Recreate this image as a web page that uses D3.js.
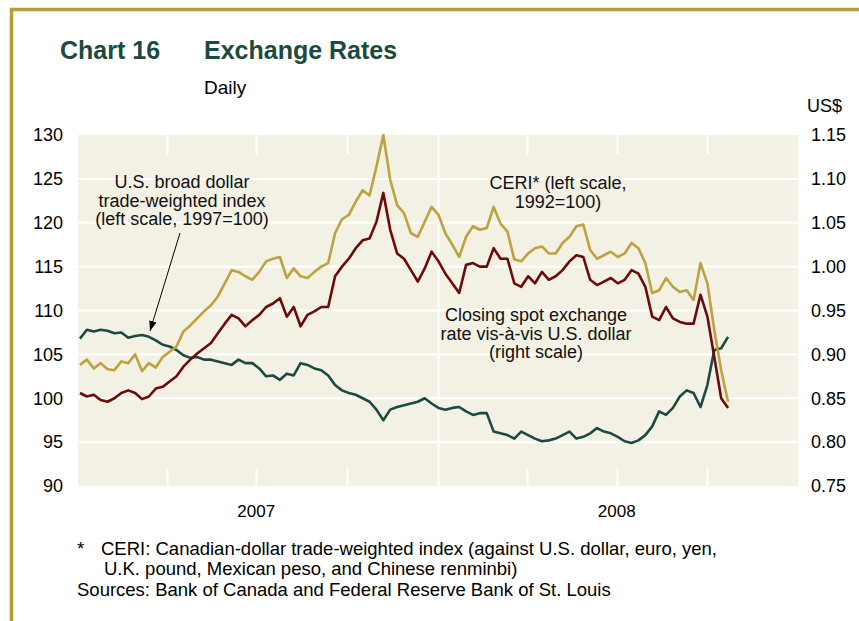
<!DOCTYPE html>
<html>
<head>
<meta charset="utf-8">
<script src="https://cdnjs.cloudflare.com/ajax/libs/d3/7.8.5/d3.min.js"></script>
<style>
body { margin: 0; background: #fff; }
text { font-family: "Liberation Sans", Arial, sans-serif; }
</style>
</head>
<body>
<div id="chart"></div>
<script>
// weekly readings, first week = 3 Jan 2007
var ceri = [
  103.8, 104.4, 103.4, 104.0, 103.3, 103.2, 104.2, 104.0, 105.0, 103.1,
  104.0, 103.5, 104.7, 105.3, 105.9, 107.6, 108.3, 109.1, 109.9, 110.6,
  111.6, 113.1, 114.6, 114.4, 113.9, 113.5, 114.4, 115.6, 115.9, 116.1,
  113.7, 114.8, 113.9, 113.7, 114.4, 115.0, 115.4, 118.8, 120.4, 120.9,
  122.4, 123.7, 123.1, 126.4, 130.0, 124.9, 122.0, 121.1, 118.8, 118.4,
  120.1, 121.8, 120.9, 118.8, 117.5, 116.1, 118.4, 119.6, 119.2, 119.4,
  121.8, 119.9, 119.0, 115.8, 115.6, 116.5, 117.1, 117.3, 116.5, 116.5,
  117.7, 118.4, 119.6, 119.8, 116.9, 115.9, 116.3, 116.7, 116.1, 116.5,
  117.7, 117.1, 115.4, 112.0, 112.3, 113.7, 112.7, 112.1, 112.3, 111.2,
  115.4, 113.1, 107.8, 103.2, 99.6
];
// US$ per C$ (right scale)
var spotRate = [
  0.856, 0.852, 0.854, 0.848, 0.846, 0.850, 0.856, 0.859, 0.856, 0.849,
  0.852, 0.861, 0.863, 0.869, 0.875, 0.886, 0.894, 0.901, 0.907, 0.913,
  0.924, 0.935, 0.945, 0.941, 0.932, 0.939, 0.945, 0.954, 0.958, 0.964,
  0.943, 0.954, 0.932, 0.945, 0.949, 0.954, 0.954, 0.989, 1.000, 1.009,
  1.021, 1.030, 1.032, 1.051, 1.084, 1.042, 1.015, 1.009, 0.996, 0.983,
  0.998, 1.017, 1.006, 0.992, 0.981, 0.970, 1.002, 1.004, 1.000, 1.000,
  1.021, 1.009, 1.009, 0.981, 0.977, 0.989, 0.981, 0.994, 0.985, 0.989,
  0.996, 1.006, 1.013, 1.011, 0.985, 0.979, 0.983, 0.987, 0.981, 0.985,
  0.996, 0.992, 0.977, 0.943, 0.939, 0.954, 0.941, 0.937, 0.935, 0.935,
  0.968, 0.943, 0.897, 0.850, 0.839
];
var usDollar = [
  106.8, 107.8, 107.6, 107.8, 107.7, 107.4, 107.5, 106.9, 107.1, 107.2,
  107.0, 106.6, 106.1, 105.9, 105.5, 104.9, 104.6, 104.7, 104.4, 104.4,
  104.2, 104.0, 103.8, 104.4, 104.0, 104.0, 103.4, 102.5, 102.6, 102.1,
  102.8, 102.6, 104.0, 103.8, 103.4, 103.2, 102.6, 101.5, 100.9, 100.6,
  100.4, 100.0, 99.6, 98.7, 97.5, 98.7, 99.0, 99.2, 99.4, 99.6,
  100.0, 99.4, 98.9, 98.7, 98.9, 99.0, 98.5, 98.1, 98.3, 98.3,
  96.2, 96.0, 95.8, 95.4, 96.2, 95.8, 95.4, 95.1, 95.2, 95.4,
  95.8, 96.2, 95.4, 95.6, 96.0, 96.6, 96.2, 96.0, 95.6, 95.1,
  94.9, 95.2, 95.8, 96.8, 98.5, 98.1, 98.9, 100.2, 100.9, 100.6,
  99.0, 101.5, 105.5, 105.7, 107.0
];
var leftTicks = [90, 95, 100, 105, 110, 115, 120, 125, 130];
var rightTicks = [0.75, 0.80, 0.85, 0.90, 0.95, 1.00, 1.05, 1.10, 1.15];
var yearLabels = ["2007", "2008"];

var firstWeek = new Date(2007, 0, 3);
var weeks = ceri.map(function(d, i) { return d3.timeDay.offset(firstWeek, 7 * i); });

var width = 859, height = 621;
var plot = { left: 78, right: 798, top: 135, bottom: 486 };

var svg = d3.select("#chart").append("svg")
    .attr("width", width)
    .attr("height", height);

// gold frame
svg.append("path")
    .attr("d", "M11.5," + height + " L11.5,9.5 L" + width + ",9.5")
    .style("fill", "none")
    .style("stroke", "#b89c3a")
    .style("stroke-width", 3.5);

// titles
svg.append("text").attr("x", 60).attr("y", 59)
    .style("font-size", "25px").style("font-weight", "bold").style("fill", "#1b4a3e")
    .text("Chart 16");
svg.append("text").attr("x", 204).attr("y", 59)
    .style("font-size", "25px").style("font-weight", "bold").style("fill", "#1b4a3e")
    .text("Exchange Rates");
svg.append("text").attr("x", 204).attr("y", 94)
    .style("font-size", "19px").style("fill", "#000")
    .text("Daily");
svg.append("text").attr("x", 807).attr("y", 112)
    .style("font-size", "18px").style("fill", "#000")
    .text("US$");

var x = d3.scaleTime()
    .domain([new Date(2007, 0, 1), new Date(2009, 0, 1)])
    .range([plot.left, plot.right]);
var yLeft = d3.scaleLinear().domain([90, 130]).range([plot.bottom, plot.top]);
var yRight = d3.scaleLinear().domain([0.75, 1.15]).range([plot.bottom, plot.top]);

svg.append("rect")
    .attr("x", plot.left).attr("y", plot.top)
    .attr("width", plot.right - plot.left)
    .attr("height", plot.bottom - plot.top)
    .style("fill", "#f3f0e4");

// white horizontal grid
svg.append("g").selectAll("line")
    .data(leftTicks.slice(1, -1))
    .enter().append("line")
    .attr("x1", plot.left).attr("x2", plot.right)
    .attr("y1", function(d) { return yLeft(d); })
    .attr("y2", function(d) { return yLeft(d); })
    .style("stroke", "#fff").style("stroke-width", 2);

// quarter ticks, full line at year change
var quarters = d3.timeMonth.every(3).range(new Date(2007, 3, 1), new Date(2009, 0, 1));
var qg = svg.append("g");
quarters.forEach(function(q) {
    var qx = Math.round(x(q)) + 0.5;
    if (q.getMonth() == 0) {
        qg.append("line").attr("x1", qx).attr("x2", qx)
            .attr("y1", plot.top).attr("y2", plot.bottom)
            .style("stroke", "#fff").style("stroke-width", 2);
    } else {
        qg.append("line").attr("x1", qx).attr("x2", qx)
            .attr("y1", plot.top).attr("y2", plot.top + 19)
            .style("stroke", "#fff").style("stroke-width", 2);
        qg.append("line").attr("x1", qx).attr("x2", qx)
            .attr("y1", plot.bottom - 18).attr("y2", plot.bottom)
            .style("stroke", "#fff").style("stroke-width", 2);
    }
});

// axes
var leftAxis = svg.append("g")
    .attr("transform", "translate(" + plot.left + ",0)")
    .call(d3.axisLeft(yLeft).tickValues(leftTicks).tickSize(0).tickPadding(15));
var rightAxis = svg.append("g")
    .attr("transform", "translate(" + plot.right + ",0)")
    .call(d3.axisRight(yRight).tickValues(rightTicks).tickSize(0).tickPadding(13)
        .tickFormat(d3.format(".2f")));
[leftAxis, rightAxis].forEach(function(a) {
    a.select(".domain").remove();
    a.selectAll("text")
        .style("font-family", "'Liberation Sans', Arial, sans-serif")
        .style("font-size", "18px")
        .style("fill", "#000");
});

svg.append("g").selectAll("text")
    .data(yearLabels)
    .enter().append("text")
    .attr("x", function(d) { return x(new Date(+d, 6, 1)); })
    .attr("y", 517)
    .attr("text-anchor", "middle")
    .style("font-size", "17px")
    .text(function(d) { return d; });

// series
var lineLeft = function(vals) {
    return d3.line()
        .x(function(d, i) { return x(weeks[i]); })
        .y(function(d) { return yLeft(d); })(vals);
};
var lineRight = d3.line()
    .x(function(d, i) { return x(weeks[i]); })
    .y(function(d) { return yRight(d); });

svg.append("path").attr("d", lineLeft(usDollar))
    .style("fill", "none").style("stroke", "#1c4a40").style("stroke-width", 2.6)
    .style("stroke-linejoin", "round");
svg.append("path").attr("d", lineLeft(ceri))
    .style("fill", "none").style("stroke", "#bca241").style("stroke-width", 2.6)
    .style("stroke-linejoin", "round");
svg.append("path").attr("d", lineRight(spotRate))
    .style("fill", "none").style("stroke", "#6d0a0c").style("stroke-width", 2.6)
    .style("stroke-linejoin", "round");

// annotations
function label(lines, cx, y0, step) {
    var t = svg.append("text").attr("text-anchor", "middle")
        .style("font-size", "18px").style("fill", "#111");
    lines.forEach(function(s, i) {
        t.append("tspan").attr("x", cx).attr("y", y0 + i * step).text(s);
    });
}
label(["U.S. broad dollar", "trade-weighted index", "(left scale, 1997=100)"], 182, 188, 18.5);
label(["CERI* (left scale,", "1992=100)"], 558, 189, 18.5);
label(["Closing spot exchange", "rate vis-à-vis U.S. dollar", "(right scale)"], 536, 321, 18.5);

svg.append("defs").append("marker")
    .attr("id", "arrow")
    .attr("viewBox", "0 0 10 10")
    .attr("refX", 10).attr("refY", 5)
    .attr("markerWidth", 10).attr("markerHeight", 10)
    .attr("markerUnits", "userSpaceOnUse")
    .attr("orient", "auto")
    .append("path").attr("d", "M0,1.2 L10,5 L0,8.8 z").style("fill", "#000");
svg.append("line")
    .attr("x1", 180).attr("y1", 233).attr("x2", 150).attr("y2", 331)
    .style("stroke", "#000").style("stroke-width", 1)
    .attr("marker-end", "url(#arrow)");

// footnotes
var noteSize = "18.5px";
svg.append("text").attr("x", 77).attr("y", 555).style("font-size", noteSize).text("*");
svg.append("text").attr("x", 101).attr("y", 555).style("font-size", noteSize)
    .text("CERI: Canadian-dollar trade-weighted index (against U.S. dollar, euro, yen,");
svg.append("text").attr("x", 104).attr("y", 575).style("font-size", noteSize)
    .text("U.K. pound, Mexican peso, and Chinese renminbi)");
svg.append("text").attr("x", 77).attr("y", 596).style("font-size", noteSize)
    .text("Sources: Bank of Canada and Federal Reserve Bank of St. Louis");
</script>
</body>
</html>
